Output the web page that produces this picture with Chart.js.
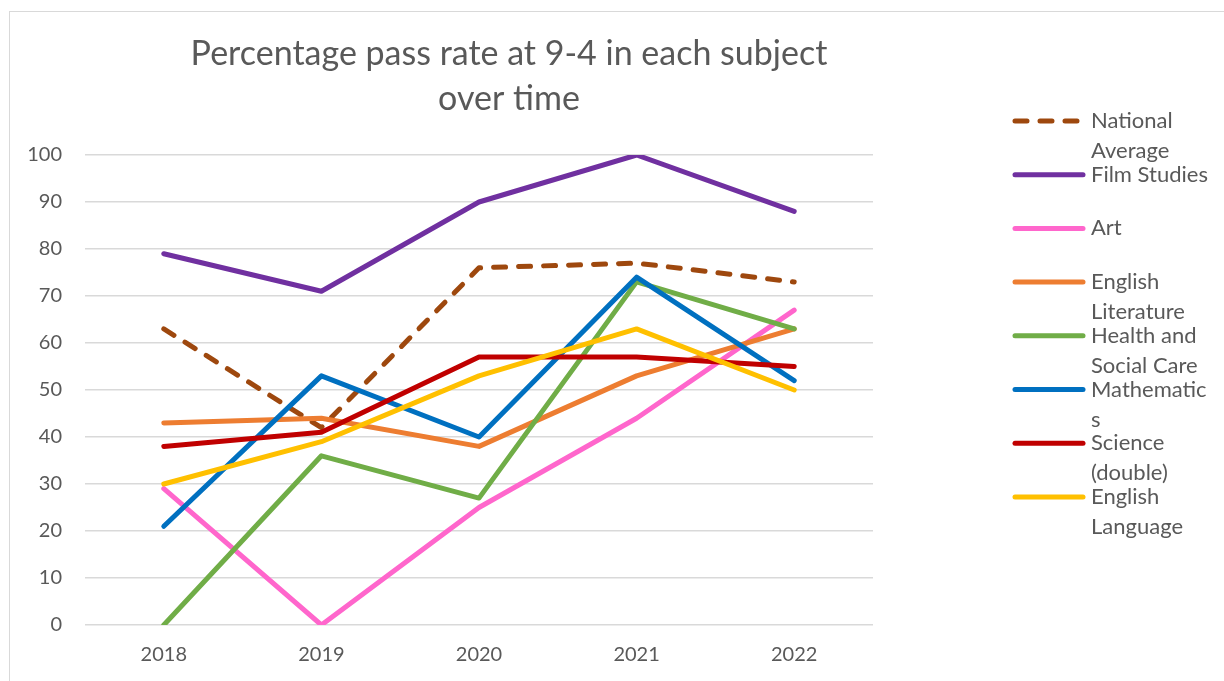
<!DOCTYPE html>
<html>
<head>
<meta charset="utf-8">
<script src="https://cdn.jsdelivr.net/npm/chart.js@4"></script>
<style>
  html, body { margin: 0; padding: 0; background: #fff; }
  #wrap { position: relative; width: 1224px; height: 681px; overflow: hidden; }
  #frame { position: absolute; left: 9px; top: 11px; width: 1300px; height: 800px;
           border-left: 1px solid #d9d9d9; border-top: 1px solid #d9d9d9; }
  canvas { position: absolute; left: 0; top: 0; }
</style>
</head>
<body>
<div id="wrap">
  <div id="frame"></div>
  <canvas id="chart" width="1224" height="681"></canvas>
</div>
<script>
const years = ["2018", "2019", "2020", "2021", "2022"];
const yTicks = [0, 10, 20, 30, 40, 50, 60, 70, 80, 90, 100];

const nationalAverage = [63, 42, 76, 77, 73];
const filmStudies     = [79, 71, 90, 100, 88];
const art             = [29, 0, 25, 44, 67];
const englishLit      = [43, 44, 38, 53, 63];
const healthSocial    = [0, 36, 27, 73, 63];
const mathematics     = [21, 53, 40, 74, 52];
const science         = [38, 41, 57, 57, 55];
const englishLang     = [30, 39, 53, 63, 50];

const seriesNames = ["National Average", "Film Studies", "Art", "English Literature",
  "Health and Social Care", "Mathematics", "Science (double)", "English Language"];
const seriesData = [nationalAverage, filmStudies, art, englishLit,
  healthSocial, mathematics, science, englishLang];
const seriesColors = ["#9E480E", "#7030A0", "#FF66CC", "#ED7D31",
  "#70AD47", "#0070C0", "#C00000", "#FFC000"];

// how Excel wrapped the legend entries
const legendLines = [["National", "Average"], ["Film Studies"], ["Art"], ["English", "Literature"],
  ["Health and", "Social Care"], ["Mathematic", "s"], ["Science", "(double)"], ["English", "Language"]];

const FONT = "Lato, 'Open Sans', sans-serif";
const GREY = "#595959";

const titleAndLegend = {
  id: "titleAndLegend",
  afterDraw(chart) {
    const c = chart.ctx;
    c.save();
    c.fillStyle = GREY;
    c.textAlign = "center";
    c.textBaseline = "middle";
    c.font = "34px " + FONT;
    c.fillText("Percentage pass rate at 9-4 in each subject", 509, 54);
    c.fillText("over time", 509, 99);

    c.textAlign = "left";
    c.font = "22px " + FONT;
    chart.data.datasets.forEach((ds, i) => {
      const y = 121 + i * 53.7;
      c.strokeStyle = ds.borderColor;
      c.lineWidth = 5;
      c.lineCap = "round";
      c.setLineDash(ds.borderDash || []);
      c.beginPath();
      c.moveTo(1015, y);
      c.lineTo(1083, y);
      c.stroke();
      c.setLineDash([]);
      legendLines[i].forEach((t, k) => c.fillText(t, 1091, y + k * 30));
    });
    c.restore();
  }
};

const datasets = seriesNames.map((name, i) => ({
  label: name,
  data: seriesData[i],
  borderColor: seriesColors[i],
  backgroundColor: seriesColors[i],
  borderWidth: 5,
  borderCapStyle: "round",
  borderJoinStyle: "round",
  borderDash: i === 0 ? [12, 13] : [],
  pointRadius: 0,
  tension: 0,
  fill: false,
  order: seriesNames.length - i
}));

new Chart(document.getElementById("chart"), {
  type: "line",
  data: { labels: years, datasets: datasets },
  options: {
    responsive: false,
    animation: false,
    layout: { padding: { left: 0, top: 155, right: 351, bottom: 6 } },
    plugins: {
      legend: { display: false },
      title: { display: false },
      tooltip: { enabled: false }
    },
    scales: {
      x: {
        offset: true,
        grid: { display: false, drawTicks: false },
        border: { display: false },
        ticks: { color: GREY, font: { family: FONT, size: 20 }, padding: 18 },
        afterFit: (s) => { s.height = 50; }
      },
      y: {
        min: 0,
        max: 100,
        afterBuildTicks: (s) => { s.ticks = yTicks.map(v => ({ value: v })); },
        grid: { color: "#d9d9d9", lineWidth: 1.5, drawTicks: false },
        border: { display: false },
        ticks: { color: GREY, font: { family: FONT, size: 20 }, padding: 23 },
        afterFit: (s) => { s.width = 85; }
      }
    }
  },
  plugins: [titleAndLegend]
});
</script>
</body>
</html>
